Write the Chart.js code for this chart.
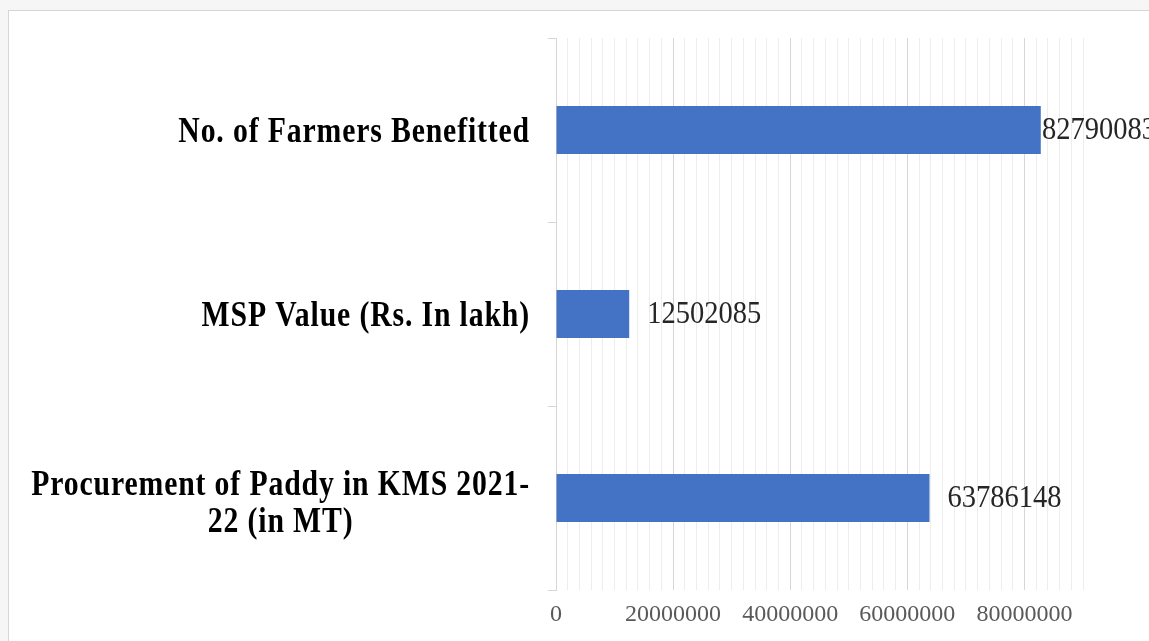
<!DOCTYPE html>
<html>
<head>
<meta charset="utf-8">
<script src="https://cdn.jsdelivr.net/npm/chart.js@4/dist/chart.umd.min.js"></script>
<style>
  html, body { margin: 0; padding: 0; background: #f6f6f6; overflow: hidden; }
  #frame {
    position: absolute; left: 8px; top: 10px; width: 1200px; height: 700px;
    background: #ffffff; border: 1px solid #d6d6d6;
  }
  #wrap { position: absolute; left: 0; top: 0; width: 1149px; height: 641px; }
</style>
</head>
<body>
<div id="frame"></div>
<div id="wrap"><canvas id="chart" width="1149" height="641"></canvas></div>
<script>
// Categories (top to bottom) and their values
const categories = [
  'No. of Farmers Benefitted',
  'MSP Value (Rs. In lakh)',
  ['Procurement of Paddy in KMS 2021-', '22 (in MT)']
];
const values = [82790083, 12502085, 63786148];

// Value axis settings
const axisMin = 0;
const axisMax = 90000000;
const minorStep = 2000000;
const majorStep = 20000000;

const serif = '"Liberation Serif", "Times New Roman", Times, serif';

// Draws a line of text squeezed horizontally by sx around its anchor
function drawNarrow(ctx, txt, x, y, sx) {
  ctx.save();
  ctx.translate(x, y);
  ctx.scale(sx, 1);
  ctx.fillText(txt, 0, 0);
  ctx.restore();
}

// Category names: each line centred on the widest line, right edge beside the axis
const categoryLabels = {
  id: 'categoryLabels',
  afterDraw(chart) {
    const ctx = chart.ctx;
    const y = chart.scales.y;
    const right = y.right - 26;
    const sx = 0.85;
    const lineH = 37;
    ctx.save();
    ctx.font = 'bold 35px ' + serif;
    if ('letterSpacing' in ctx) ctx.letterSpacing = '1px';
    ctx.fillStyle = '#000000';
    ctx.textBaseline = 'middle';
    ctx.textAlign = 'center';
    categories.forEach((lab, i) => {
      const lines = Array.isArray(lab) ? lab : [lab];
      const widest = Math.max(...lines.map(l => ctx.measureText(l).width)) * sx;
      const cx = right - widest / 2;
      const cy = y.getPixelForTick(i) + 3;
      const y0 = cy - (lines.length - 1) * lineH / 2 + (lines.length > 1 ? 3 : 0);
      lines.forEach((l, k) => drawNarrow(ctx, l, cx, y0 + k * lineH, sx));
    });
    ctx.restore();
  }
};

// Each bar's value, written just past its end
const valueLabels = {
  id: 'valueLabels',
  afterDatasetsDraw(chart) {
    const ctx = chart.ctx;
    const meta = chart.getDatasetMeta(0);
    const x = chart.scales.x;
    const sx = 0.92;
    ctx.save();
    ctx.font = '31px ' + serif;
    ctx.fillStyle = '#262626';
    ctx.textBaseline = 'middle';
    ctx.textAlign = 'left';
    values.forEach((v, i) => {
      const txt = String(v);
      const w = ctx.measureText(txt).width * sx;
      const end = x.getPixelForValue(v);
      const px = Math.min(end + 18, chart.width + 7 - w);
      drawNarrow(ctx, txt, px, meta.data[i].y + 1, sx);
    });
    ctx.restore();
  }
};

new Chart(document.getElementById('chart'), {
  type: 'bar',
  data: {
    labels: categories,
    datasets: [{
      data: values,
      backgroundColor: '#4472C4',
      borderWidth: 0,
      barPercentage: 0.26,
      categoryPercentage: 1
    }]
  },
  options: {
    indexAxis: 'y',
    responsive: false,
    animation: false,
    events: [],
    layout: { padding: { top: 38, right: 66, left: 0, bottom: 0 } },
    plugins: { legend: { display: false }, tooltip: { enabled: false } },
    scales: {
      x: {
        type: 'linear',
        min: axisMin,
        max: axisMax,
        afterFit(scale) { scale.height = 51; },
        border: { display: false },
        grid: {
          drawTicks: false,
          color: c => (c.tick && c.tick.value % majorStep === 0) ? '#d6d6d6' : '#ededed',
          lineWidth: 1
        },
        ticks: {
          stepSize: minorStep,
          autoSkip: false,
          maxRotation: 0,
          padding: 10,
          color: '#595959',
          font: { family: serif, size: 24 },
          callback: v => (v % majorStep === 0 && v < axisMax) ? String(v) : ''
        }
      },
      y: {
        type: 'category',
        offset: true,
        afterFit(scale) { scale.width = 556; },
        border: { display: true, color: '#d6d6d6', width: 1 },
        grid: {
          offset: true,
          drawOnChartArea: false,
          drawTicks: true,
          tickLength: 8,
          color: '#d6d6d6'
        },
        ticks: { display: false }
      }
    }
  },
  plugins: [categoryLabels, valueLabels]
});
</script>
</body>
</html>
